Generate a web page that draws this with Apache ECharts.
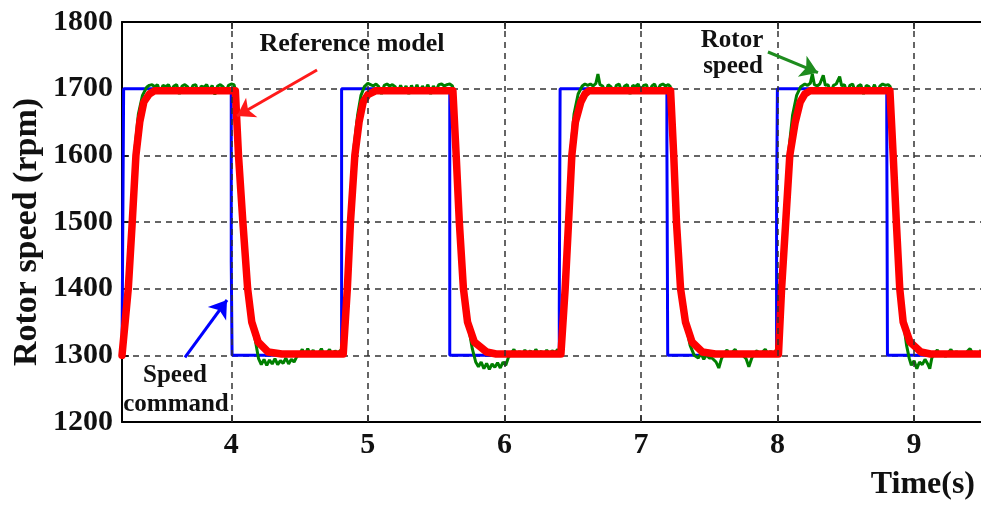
<!DOCTYPE html>
<html>
<head>
<meta charset="utf-8">
<script src="https://cdn.jsdelivr.net/npm/echarts@6/dist/echarts.min.js"></script>
<style>
  html, body { margin: 0; padding: 0; background: #fff; }
  #chart { width: 981px; height: 505px; }
</style>
</head>
<body>
<div id="chart"></div>
<script>
// x axis ticks (s)
var xTicks = [4, 5, 6, 7, 8, 9];

// speed command (rpm)
var commandData = [
  [3.2, 1300], [3.212, 1300], [3.212, 1700], [4.0, 1700], [4.0, 1440], [4.006, 1440], [4.006, 1300],
  [4.808, 1300], [4.808, 1700], [5.6, 1700], [5.6, 1300],
  [6.402, 1300], [6.402, 1370], [6.408, 1370], [6.408, 1700], [7.19, 1700], [7.19, 1620], [7.196, 1620], [7.196, 1300],
  [7.993, 1300], [7.993, 1520], [7.999, 1520], [7.999, 1700], [8.8, 1700], [8.8, 1650], [8.805, 1650], [8.805, 1300],
  [9.49, 1300]
];

// reference model output (rpm)
var referenceData = [
  [3.2, 1300], [3.21, 1302], [3.246, 1400], [3.275, 1500], [3.302, 1600], [3.33, 1650], [3.36, 1680], [3.4, 1692], [3.44, 1697],
  [4.03, 1697], [4.053, 1600], [4.085, 1500], [4.12, 1400], [4.15, 1350], [4.197, 1320], [4.27, 1305], [4.37, 1302],
  [4.82, 1302], [4.85, 1400], [4.873, 1500], [4.905, 1600], [4.936, 1650], [4.966, 1680], [5.0, 1691], [5.06, 1697],
  [5.623, 1697], [5.647, 1600], [5.67, 1500], [5.7, 1400], [5.73, 1350], [5.78, 1320], [5.87, 1305], [5.94, 1302],
  [6.414, 1302], [6.445, 1400], [6.47, 1500], [6.494, 1600], [6.52, 1650], [6.56, 1680], [6.59, 1692], [6.62, 1697],
  [7.217, 1697], [7.24, 1600], [7.26, 1500], [7.29, 1400], [7.326, 1350], [7.374, 1320], [7.45, 1305], [7.545, 1302],
  [8.007, 1302], [8.03, 1400], [8.06, 1500], [8.09, 1600], [8.13, 1650], [8.166, 1680], [8.2, 1692], [8.24, 1697],
  [8.823, 1697], [8.847, 1600], [8.87, 1500], [8.895, 1400], [8.92, 1350], [8.97, 1320], [9.05, 1305], [9.12, 1302],
  [9.49, 1302]
];

// measured rotor speed (rpm)
var rotorData = [
  [3.2, 1300], [3.21, 1298], [3.225, 1340], [3.245, 1410], [3.27, 1510], [3.295, 1610], [3.32, 1662], [3.35, 1690], [3.38, 1702], [3.4, 1705],
  [3.42, 1706], [3.44, 1703], [3.46, 1706], [3.48, 1694], [3.5, 1705], [3.52, 1703], [3.54, 1706], [3.56, 1697], [3.58, 1704], [3.6, 1706],
  [3.62, 1692], [3.64, 1704], [3.66, 1706], [3.68, 1703], [3.7, 1696], [3.72, 1705], [3.74, 1706], [3.76, 1693], [3.78, 1704], [3.8, 1702],
  [3.82, 1706], [3.84, 1697], [3.86, 1705], [3.88, 1691], [3.9, 1704], [3.92, 1706], [3.94, 1703], [3.96, 1695], [3.98, 1705], [4.0, 1707],
  [4.02, 1706], [4.04, 1690], [4.06, 1600], [4.09, 1500], [4.125, 1400], [4.155, 1345], [4.18, 1318], [4.2, 1295],
  [4.22, 1286], [4.24, 1294], [4.26, 1285], [4.28, 1293], [4.3, 1287], [4.32, 1295], [4.34, 1286], [4.36, 1292], [4.38, 1288], [4.4, 1296],
  [4.42, 1287], [4.44, 1294], [4.46, 1290], [4.48, 1298], [4.5, 1302], [4.52, 1309], [4.54, 1300], [4.56, 1310], [4.58, 1301], [4.6, 1308],
  [4.62, 1299], [4.64, 1303], [4.66, 1310], [4.68, 1300], [4.7, 1304], [4.72, 1309], [4.74, 1299], [4.76, 1307], [4.78, 1302], [4.8, 1308],
  [4.815, 1300], [4.835, 1360], [4.85, 1420], [4.87, 1510], [4.9, 1615], [4.925, 1660], [4.95, 1690], [4.975, 1703], [5.0, 1708],
  [5.02, 1706], [5.04, 1704], [5.06, 1707], [5.08, 1703], [5.1, 1692], [5.12, 1705], [5.14, 1707], [5.16, 1704], [5.18, 1706], [5.2, 1703],
  [5.22, 1693], [5.24, 1705], [5.26, 1696], [5.28, 1704], [5.3, 1692], [5.32, 1705], [5.34, 1695], [5.36, 1706], [5.38, 1693], [5.4, 1704],
  [5.42, 1697], [5.44, 1706], [5.46, 1692], [5.48, 1704], [5.5, 1697], [5.52, 1706], [5.54, 1707], [5.56, 1704], [5.58, 1706], [5.6, 1707],
  [5.62, 1704], [5.635, 1690], [5.655, 1600], [5.678, 1500], [5.707, 1400], [5.735, 1345], [5.765, 1310], [5.79, 1290],
  [5.81, 1283], [5.83, 1290], [5.85, 1280], [5.87, 1288], [5.89, 1279], [5.91, 1287], [5.93, 1282], [5.95, 1289], [5.97, 1281], [5.99, 1290],
  [6.01, 1285], [6.03, 1297], [6.05, 1303], [6.07, 1309], [6.09, 1301], [6.11, 1306], [6.13, 1300], [6.15, 1308], [6.17, 1302], [6.19, 1307],
  [6.21, 1300], [6.23, 1309], [6.25, 1303], [6.27, 1306], [6.29, 1301], [6.31, 1308], [6.33, 1302], [6.35, 1307], [6.37, 1304], [6.39, 1309],
  [6.41, 1300], [6.425, 1350], [6.44, 1410], [6.465, 1515], [6.49, 1615], [6.51, 1662], [6.54, 1692], [6.57, 1704], [6.59, 1707],
  [6.61, 1705], [6.63, 1707], [6.65, 1704], [6.67, 1708], [6.685, 1722], [6.7, 1706], [6.72, 1704], [6.74, 1694], [6.76, 1706], [6.78, 1703],
  [6.8, 1693], [6.82, 1705], [6.84, 1707], [6.86, 1695], [6.88, 1704], [6.9, 1706], [6.92, 1692], [6.94, 1705], [6.96, 1703], [6.98, 1707],
  [7.0, 1694], [7.02, 1705], [7.04, 1706], [7.06, 1693], [7.08, 1704], [7.1, 1707], [7.12, 1696], [7.14, 1705], [7.16, 1707], [7.18, 1704],
  [7.2, 1706], [7.215, 1703], [7.23, 1685], [7.25, 1600], [7.27, 1500], [7.297, 1400], [7.33, 1345], [7.36, 1315], [7.39, 1300],
  [7.42, 1296], [7.44, 1303], [7.46, 1294], [7.48, 1301], [7.5, 1296], [7.52, 1296], [7.55, 1290], [7.57, 1281], [7.59, 1295], [7.61, 1303],
  [7.63, 1308], [7.65, 1300], [7.67, 1305], [7.69, 1309], [7.71, 1301], [7.73, 1304], [7.75, 1299], [7.77, 1295], [7.79, 1283], [7.81, 1295],
  [7.83, 1303], [7.85, 1307], [7.87, 1300], [7.89, 1305], [7.91, 1309], [7.93, 1302], [7.95, 1306], [7.97, 1301], [7.99, 1308], [8.005, 1300],
  [8.02, 1370], [8.035, 1420], [8.06, 1515], [8.085, 1612], [8.11, 1660], [8.14, 1690], [8.17, 1703], [8.2, 1707],
  [8.22, 1705], [8.24, 1708], [8.255, 1722], [8.27, 1706], [8.29, 1704], [8.31, 1707], [8.335, 1720], [8.35, 1705], [8.37, 1706], [8.39, 1694],
  [8.41, 1705], [8.43, 1707], [8.455, 1718], [8.47, 1704], [8.49, 1706], [8.51, 1693], [8.53, 1705], [8.55, 1707], [8.57, 1695], [8.59, 1704],
  [8.61, 1706], [8.63, 1692], [8.65, 1705], [8.67, 1703], [8.69, 1696], [8.71, 1706], [8.73, 1694], [8.75, 1704], [8.77, 1707], [8.79, 1705],
  [8.81, 1706], [8.825, 1703], [8.835, 1688], [8.855, 1600], [8.878, 1500], [8.902, 1400], [8.925, 1345], [8.945, 1315], [8.965, 1295],
  [8.98, 1285], [9.0, 1292], [9.02, 1280], [9.04, 1290], [9.06, 1286], [9.08, 1294], [9.1, 1287], [9.115, 1280], [9.13, 1296], [9.15, 1303],
  [9.17, 1308], [9.19, 1300], [9.21, 1305], [9.23, 1298], [9.25, 1304], [9.27, 1309], [9.29, 1301], [9.31, 1306], [9.33, 1300], [9.35, 1303],
  [9.37, 1299], [9.39, 1306], [9.41, 1310], [9.43, 1302], [9.45, 1305], [9.47, 1300], [9.49, 1308]
];

// annotation arrows, [from, to] in data units
var refArrow = [[4.628, 1728], [4.042, 1659]];
var rotorArrow = [[7.93, 1755], [8.296, 1724]];
var cmdArrow = [[3.661, 1297], [3.969, 1383]];

var serif = '"Liberation Serif", "Times New Roman", serif';
var txtColor = '#111';

var chart = echarts.init(document.getElementById('chart'));

function arrow(pts, color) {
  return {
    silent: true,
    symbol: ['none', 'arrow'],
    symbolSize: 17,
    label: { show: false },
    lineStyle: { color: color, width: 3, type: 'solid' },
    emphasis: { disabled: true },
    data: [[{ coord: pts[0] }, { coord: pts[1] }]]
  };
}

function text(x, y, str, size, align) {
  return {
    type: 'text', x: x, y: y, z: 100,
    style: {
      text: str, fill: txtColor, align: align || 'center', verticalAlign: 'middle',
      font: 'bold ' + size + 'px ' + serif
    }
  };
}

var option = {
  backgroundColor: '#fff',
  animation: false,
  grid: { left: 122, right: 0, top: 22, bottom: 83 },
  xAxis: [
    {
      type: 'value', min: 3.2, max: 9.49, position: 'bottom',
      axisLine: { show: true, lineStyle: { color: '#000', width: 2 } },
      axisTick: { show: true, inside: true, length: 7, customValues: xTicks, lineStyle: { color: '#000', width: 1.5 } },
      axisLabel: { customValues: xTicks, margin: 8, color: txtColor, fontFamily: serif, fontWeight: 'bold', fontSize: 30 },
      splitLine: { show: false }
    },
    {
      type: 'value', min: 3.2, max: 9.49, position: 'top',
      axisLine: { show: true, lineStyle: { color: '#000', width: 2 } },
      axisTick: { show: true, inside: true, length: 7, customValues: xTicks, lineStyle: { color: '#000', width: 1.5 } },
      axisLabel: { show: false },
      splitLine: { show: false }
    }
  ],
  yAxis: {
    type: 'value', min: 1200, max: 1800, interval: 100,
    axisLine: { show: true, lineStyle: { color: '#000', width: 2 } },
    axisTick: { show: true, inside: true, length: 7, lineStyle: { color: '#000', width: 1.5 } },
    axisLabel: {
      margin: 9, color: txtColor, fontFamily: serif, fontWeight: 'bold', fontSize: 30,
      formatter: function (v) { return String(v); }
    },
    splitLine: { show: true, lineStyle: { color: '#333', width: 1.5, type: [6, 5] } }
  },
  series: [
    {
      // vertical grid lines at the labelled ticks
      type: 'line', data: [], silent: true, z: 1,
      markLine: {
        silent: true, symbol: 'none', label: { show: false },
        lineStyle: { color: '#333', width: 1.5, type: [6, 5] },
        emphasis: { disabled: true },
        data: xTicks.map(function (v) { return { xAxis: v }; })
      }
    },
    {
      name: 'Speed command', type: 'line', data: commandData, showSymbol: false, z: 2,
      lineStyle: { color: '#0000ff', width: 3 },
      markLine: arrow(cmdArrow, '#0000ff')
    },
    {
      name: 'Rotor speed', type: 'line', data: rotorData, showSymbol: false, z: 3,
      lineStyle: { color: '#007f00', width: 3 },
      markLine: arrow(rotorArrow, '#1e8c1e')
    },
    {
      name: 'Reference model', type: 'line', data: referenceData, showSymbol: false, z: 4,
      lineStyle: { color: '#ff0000', width: 7.5, join: 'round', cap: 'round' },
      markLine: arrow(refArrow, '#ff1a1a')
    }
  ],
  graphic: [
    {
      type: 'text', x: 27, y: 232, rotation: Math.PI / 2,
      style: { text: 'Rotor speed (rpm)', fill: txtColor, align: 'center', verticalAlign: 'middle', font: 'bold 34px ' + serif }
    },
    text(975, 485, 'Time(s)', 32, 'right'),
    text(352, 44, 'Reference model', 26),
    text(732, 41, 'Rotor', 25),
    text(733, 67, 'speed', 25),
    text(175, 376, 'Speed', 25),
    text(176, 405, 'command', 25)
  ]
};

chart.setOption(option);
</script>
</body>
</html>
